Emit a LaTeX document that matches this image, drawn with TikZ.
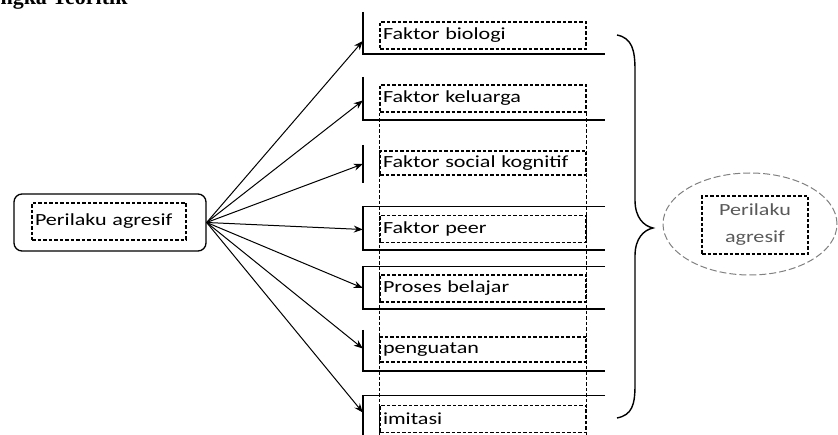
\documentclass[tikz,border=0pt]{standalone}
\usepackage{fontspec}
\setmainfont{Carlito}[FakeStretch=1.3]
\newfontfamily\judulfont{Liberation Serif}
\usepackage{tikz}
\usetikzlibrary{shapes.geometric,arrows.meta}

\tikzset{
    kotak/.style={draw=none, minimum width=242pt, inner sep=0pt},
    garis/.style={draw=black, dash pattern=on 3.5pt off 2pt, line width=1.1pt, minimum width=206pt, minimum height=27pt, inner sep=2pt, text width=200pt, align=left},
    asal/.style={draw=black, line width=1.3pt, rounded corners=8pt, minimum width=192pt, minimum height=57pt},
    panah/.style={-{Stealth[length=9pt,width=7pt]}, line width=1pt},
}

\begin{document}
\begin{tikzpicture}[x=1pt,y=-1pt,font=\fontsize{17}{21}\selectfont]
            \useasboundingbox (0,0) rectangle (838,435);
            \node[anchor=base west, font=\judulfont\bfseries\fontsize{22}{24}\selectfont] (judul) at (-3,5) {ngka Teoritik};

            \node[asal] (src) at (110,222.5) {};
            \node[garis, minimum width=154pt, minimum height=37pt, text width=148pt] (srclbl) at (109,221.5) {Perilaku agresif};

            \node[kotak, minimum height=42pt] (bio) at (484,33) {};
            \node[kotak, minimum height=43pt] (kel) at (484,98.5) {};
            \node[kotak, minimum height=38pt] (sos) at (484,164) {};
            \node[kotak, minimum height=43pt] (peer) at (484,228.5) {};
            \node[kotak, minimum height=42pt] (proses) at (484,288) {};
            \node[kotak, minimum height=41pt] (peng) at (484,350.5) {};
            \node[kotak, minimum height=39pt] (imit) at (484,415.5) {};

            \draw[line width=1.4pt] (bio.north west) -- (bio.south west) -- (bio.south east);
            \draw[line width=1.4pt] (kel.north west) -- (kel.south west) -- (kel.south east);
            \draw[line width=1.4pt] (sos.north west) -- (sos.south west);
            \draw[line width=1.4pt] (peer.north east) -- (peer.north west) -- (peer.south west) -- (peer.south east);
            \draw[line width=1.4pt] (proses.north east) -- (proses.north west) -- (proses.south west) -- (proses.south east);
            \draw[line width=1.4pt] (peng.north west) -- (peng.south west) -- (peng.south east);
            \draw[line width=1.4pt] (imit.north east) -- (imit.north west) -- (imit.south west);

            \node[garis] (tbio) at (483,35.5) {Faktor biologi};
            \node[garis] (tkel) at (483,98.5) {Faktor keluarga};
            \node[garis, minimum height=24pt] (tsos) at (483,163) {Faktor social kognitif};
            \node[garis] (tpeer) at (483,229) {Faktor peer};
            \node[garis] (tproses) at (483,288.5) {Proses belajar};
            \node[garis, minimum height=25pt] (tpeng) at (483,349.5) {penguatan};
            \node[garis] (timit) at (483,419) {imitasi};

            \draw[dash pattern=on 3.5pt off 2pt, line width=1.1pt] (tkel.south west) -- (tkel.south west |- 0,435);
            \draw[dash pattern=on 3.5pt off 2pt, line width=1.1pt] (tkel.south east) -- (tkel.south east |- 0,435);

            \draw[panah] (src.east) -- ([yshift=-8pt]bio.west);
            \draw[panah] (src.east) -- ([yshift=-2pt]kel.west);
            \draw[panah] (src.east) -- (sos.west);
            \draw[panah] (src.east) -- ([yshift=-1pt]peer.west);
            \draw[panah] (src.east) -- (proses.west);
            \draw[panah] (src.east) -- ([yshift=2pt]peng.west);
            \draw[panah] (src.east) -- ([yshift=3pt]imit.west);

            \draw[line width=1.4pt] (617,35) .. controls (632,38) and (635,50) .. (635,70) -- (635,200)
                .. controls (635,218) and (644,226) .. (653,228) .. controls (644,230) and (635,238) .. (635,256)
                -- (635,385) .. controls (635,405) and (632,415) .. (617,418);

            \node[draw=gray, dash pattern=on 7pt off 3pt, line width=1pt, ellipse, minimum width=174pt, minimum height=102pt] (hasil) at (750,224) {};
            \node[garis, minimum width=106pt, minimum height=58pt, text width=100pt, align=center, text=gray!70!black] (hasillbl) at (755,225) {Perilaku\\[6pt]agresif};
        \end{tikzpicture}
\end{document}
